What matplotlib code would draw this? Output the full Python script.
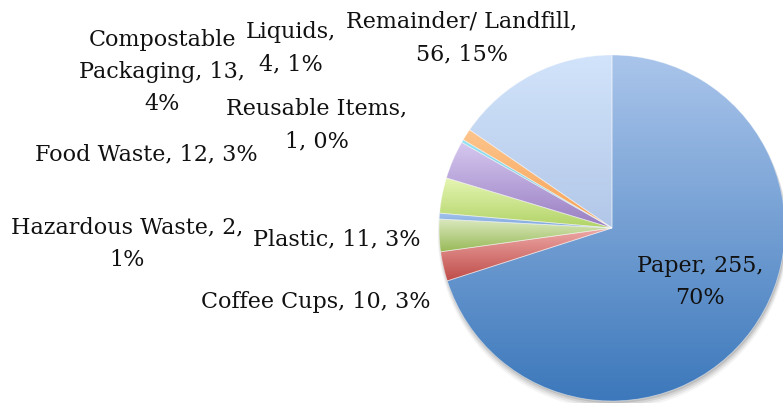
import numpy as np
import matplotlib
matplotlib.use("Agg")
import matplotlib.pyplot as plt
from matplotlib.colors import LinearSegmentedColormap
from matplotlib.patches import Circle

# waste audit totals by category (clockwise from 12 o'clock)
categories = ["Paper", "Coffee Cups", "Plastic", "Hazardous Waste", "Food Waste",
              "Compostable Packaging", "Reusable Items", "Liquids", "Remainder/ Landfill"]
amounts = [255, 10, 11, 2, 12, 13, 1, 4, 56]

# top / bottom shade of each slice's gradient fill
top_colors = ["#AAC5EB", "#EEA9A7", "#DAE9BF", "#A2C2EC", "#E6F6B4",
              "#D6C8F0", "#92E2F2", "#FDC58D", "#D2E4FB"]
bottom_colors = ["#3C78BB", "#BE4C49", "#98B956", "#7BA5DB", "#B1D367",
                 "#987DC1", "#6AC3DB", "#F7A153", "#B2C7E8"]

# label text broken over lines as it is drawn, and where each label sits (pixels)
label_text = ["Paper, 255,\n70%", "Coffee Cups, 10, 3%", "Plastic, 11, 3%",
              "Hazardous Waste, 2,\n1%", "Food Waste, 12, 3%",
              "Compostable\nPackaging, 13,\n4%", "Reusable Items,\n1, 0%",
              "Liquids,\n4, 1%", "Remainder/ Landfill,\n56, 15%"]
label_px = [(700, 282), (316, 302), (337, 239), (127, 244), (146, 154),
            (162, 72), (317, 125), (291, 48), (462, 38)]

W, H = 783, 403
fig = plt.figure(figsize=(W / 100, H / 100), dpi=100)

cx, cy, r = 612, 228, 173
ax = fig.add_axes([(cx - r) / W, (H - cy - r) / H, 2 * r / W, 2 * r / H])
ax.set_xlim(-1, 1)
ax.set_ylim(-1, 1)
ax.axis("off")

# soft drop shadow under the pie
for i, a in enumerate([0.10, 0.08, 0.06, 0.04]):
    ax.add_patch(Circle((0.005, -0.012 - 0.008 * i), 1.0 + 0.004 * i,
                        facecolor="#000000", alpha=a, edgecolor="none",
                        zorder=0, clip_on=False))

wedges, _ = ax.pie(amounts, startangle=90, counterclock=False, radius=1.0,
                   colors=bottom_colors,
                   wedgeprops=dict(edgecolor=(1, 1, 1, 0.45), linewidth=0.6))

for w, c_top, c_bot in zip(wedges, top_colors, bottom_colors):
    w.set_zorder(2)
    bb = w.get_path().get_extents(w.get_patch_transform())
    cmap = LinearSegmentedColormap.from_list("g", [c_bot, c_top])
    grad = np.linspace(0, 1, 256).reshape(-1, 1)
    im = ax.imshow(grad, cmap=cmap, origin="lower", aspect="auto",
                   extent=[bb.x0, bb.x1, bb.y0, bb.y1], zorder=1,
                   interpolation="bilinear")
    im.set_clip_path(w)
    w.set_facecolor("none")

ax.set_xlim(-1, 1)
ax.set_ylim(-1, 1)

for txt, (px, py) in zip(label_text, label_px):
    fig.text(px / W, 1 - py / H, txt, ha="center", va="center",
             multialignment="center", fontsize=16, family="DejaVu Serif",
             color="#111111", linespacing=1.6)

fig.savefig("out.png", dpi=100)
